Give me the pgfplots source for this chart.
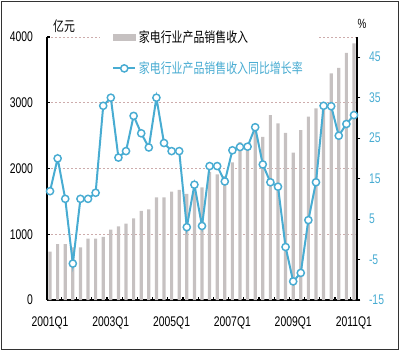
\documentclass[border=0pt]{standalone}
\usepackage{pgfplots}
\pgfplotsset{compat=1.18}
\usepackage{fontspec}
\setmainfont{Liberation Sans}
\newfontfamily\tickfont[FakeStretch=0.74]{Liberation Sans}
\newfontfamily\cjk[FakeStretch=0.78]{Noto Sans CJK SC}
\definecolor{barcol}{RGB}{198,193,193}
\definecolor{linecol}{RGB}{72,172,210}
\definecolor{gridcol}{RGB}{205,172,172}
\begin{document}
\begin{tikzpicture}[x=1pt,y=1pt]
\path[use as bounding box] (-35.25,-38.25) rectangle (264.75,225);
\draw[line width=1pt,black!80] (-34.1,-37.1) rectangle (263.6,223.9);
\begin{axis}[
  at={(0,0)}, anchor=south west, scale only axis,
  width=232.5pt, height=197.25pt,
  xmin=-0.4, xmax=40.4, ymin=0, ymax=4000,
  axis y line*=left, axis x line*=bottom,
  axis line style={black, line width=1pt, -},
  ytick={0,1000,2000,3000,4000},
  ymajorgrids,
  grid style={gridcol, dash pattern=on 1.5pt off 1.5pt, line width=0.6pt},
  xtick={1.5,3.5,...,39.5}, xticklabels={},
  extra x ticks={0,8,16,24,32,40},
  extra x tick labels={2001Q1,2003Q1,2005Q1,2007Q1,2009Q1,2011Q1},
  extra x tick style={major tick length=0pt, grid=none},
  tick align=inside, major tick length=2.5pt,
  tick style={black, line width=0.8pt},
  /pgf/number format/assume math mode=true,
  /pgf/number format/1000 sep={},
  xticklabel style={font=\tickfont\fontsize{10.5}{12}\selectfont, yshift=-9pt},
  yticklabel style={font=\tickfont\fontsize{10.5}{12}\selectfont, xshift=-7pt},
  clip=false,
]
\addplot[ybar, bar width=2.4pt, fill=barcol, draw=none] coordinates {
(0,734) (1,850) (2,850) (3,800) (4,801) (5,935) (6,935) (7,962) (8,1070) (9,1120)
(10,1160) (11,1242) (12,1355) (13,1380) (14,1561) (15,1561) (16,1650) (17,1675) (18,1615) (19,1650)
(20,1713) (21,1950) (22,1910) (23,1885) (24,2095) (25,2400) (26,2380) (27,2600) (28,2480) (29,2812)
(30,2686) (31,2540) (32,2240) (33,2584) (34,2790) (35,2914) (36,2980) (37,3446) (38,3530) (39,3760)
(40,3905)
};
\node[font=\cjk\fontsize{10.5}{12}\selectfont, anchor=center] at (rel axis cs:0.055,1.04) {亿元};
\node[font=\tickfont\fontsize{10}{12}\selectfont, anchor=center] at (rel axis cs:1.016,1.05) {\%};
\end{axis}
\begin{axis}[
  at={(0,0)}, anchor=south west, scale only axis,
  width=232.5pt, height=197.25pt,
  xmin=-0.4, xmax=40.4, ymin=-15, ymax=50,
  axis y line*=right, axis x line=none,
  axis line style={black, line width=1pt, -},
  ytick={-15,-5,5,15,25,35,45},
  tick align=outside, major tick length=2.5pt,
  tick style={black, line width=0.8pt},
  /pgf/number format/assume math mode=true,
  yticklabel style={font=\tickfont\fontsize{10.5}{12}\selectfont, text=linecol, xshift=3pt},
  legend style={at={(0.171,1.057)}, anchor=north west, draw=none, fill=white,
    font=\cjk\fontsize{10.5}{12}\selectfont, row sep=9pt, inner xsep=9pt, inner ysep=4pt,
    nodes={inner xsep=2pt}},
  legend cell align=left,
  clip=false,
]
\addlegendimage{legend image code/.code={\fill[barcol] (0pt,-2pt) rectangle (16.5pt,2pt);}}
\addlegendentry{家电行业产品销售收入}
\addplot[linecol, line width=1.5pt, mark=*, mark size=2.7pt,
  mark options={fill=white, draw=linecol, line width=1.1pt},
  legend image code/.code={\draw[linecol,line width=1.5pt] (0pt,0pt) -- (16.5pt,0pt);
    \draw[linecol,line width=1.1pt,fill=white] (8.25pt,0pt) circle (2.7pt);}]
coordinates {
(0,11.9) (1,20) (2,10) (3,-6) (4,10) (5,10) (6,11.5) (7,33) (8,35) (9,20.2)
(10,21.8) (11,30.5) (12,26.2) (13,22.7) (14,35) (15,23.8) (16,21.8) (17,21.8) (18,3) (19,13.5)
(20,3.3) (21,18.1) (22,18.1) (23,14.3) (24,22) (25,22.8) (26,22.9) (27,27.7) (28,18.5) (29,14.1)
(30,13) (31,-1.9) (32,-10.4) (33,-8.3) (34,4.75) (35,14.1) (36,33) (37,32.9) (38,25.6) (39,28.5)
(40,30.7)
};
\addlegendentry{\color{linecol}家电行业产品销售收入同比增长率}
\end{axis}
\end{tikzpicture}
\end{document}
